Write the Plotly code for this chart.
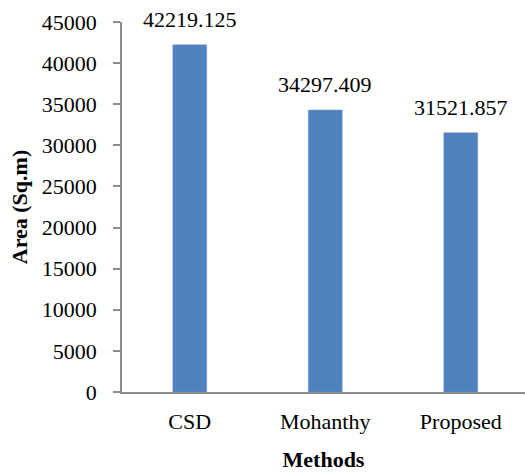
import plotly.graph_objects as go

methods = ["CSD", "Mohanthy", "Proposed"]
areas = [42219.125, 34297.409, 31521.857]
value_labels = ["42219.125", "34297.409", "31521.857"]
y_ticks = [0, 5000, 10000, 15000, 20000, 25000, 30000, 35000, 40000, 45000]

FONT = "Liberation Serif"
AXIS_GREY = "#8c8c8c"
SIZE = 22

fig = go.Figure(
    go.Bar(
        x=methods,
        y=areas,
        width=0.25,
        marker=dict(color="#4f81bd", line=dict(color="#6a96c9", width=0.5)),
    )
)

# value labels sitting above each bar
for m, v, t in zip(methods, areas, value_labels):
    fig.add_annotation(
        x=m, y=v, text=t, showarrow=False, yanchor="bottom",
        yshift=11, font=dict(family=FONT, size=SIZE, color="black"),
    )

fig.update_layout(
    width=525,
    height=473,
    margin=dict(l=122, r=0, t=22, b=81),
    plot_bgcolor="white",
    paper_bgcolor="white",
    showlegend=False,
    font=dict(family=FONT, size=SIZE, color="black"),
    xaxis=dict(
        range=[-0.5, 2.474],
        showline=True, linecolor=AXIS_GREY, linewidth=1.5,
        ticks="", showgrid=False,
        tickfont=dict(family=FONT, size=SIZE, color="black"),
        ticklabelstandoff=9,
        title=dict(text="<b>Methods</b>", font=dict(family=FONT, size=SIZE, color="black"), standoff=18),
    ),
    yaxis=dict(
        range=[0, 45000],
        tickvals=y_ticks,
        ticktext=[str(v) for v in y_ticks],
        showline=True, linecolor=AXIS_GREY, linewidth=1.5,
        ticks="outside", ticklen=7, tickcolor=AXIS_GREY, tickwidth=1.5,
        showgrid=False, zeroline=False,
        tickfont=dict(family=FONT, size=SIZE, color="black"),
        ticklabelstandoff=12,
        title=dict(text="<b>Area (Sq.m)</b>", font=dict(family=FONT, size=SIZE, color="black"), standoff=8),
    ),
)

fig.write_html("out.html")
